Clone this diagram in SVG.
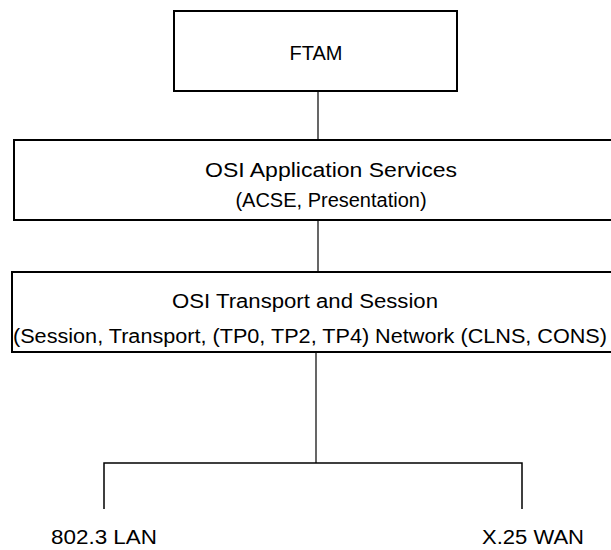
<svg xmlns="http://www.w3.org/2000/svg" width="611" height="550" viewBox="0 0 611 550">
<style>
.box{fill:#fff;stroke:#000;stroke-width:2}
.ln{fill:none;stroke:#000;stroke-width:1.2}
text{font-family:"Liberation Sans",Arial,sans-serif;font-size:20px;fill:#000}
.c{text-anchor:middle}
</style>
<rect width="611" height="550" fill="#fff"/>
<g id="connectors">
<line class="ln" x1="318" y1="91" x2="318" y2="140"/>
<line class="ln" x1="318" y1="220" x2="318" y2="272"/>
<line class="ln" x1="316" y1="352" x2="316" y2="463"/>
<polyline class="ln" points="104,509 104,463 522,463 522,509" style="stroke-width:1.5"/>
</g>
<g id="ftam">
<rect class="box" x="174" y="11" width="283" height="80"/>
<text class="c" x="316" y="60">FTAM</text>
</g>
<g id="app">
<rect class="box" x="14" y="140" width="610" height="80"/>
<text class="c" x="331" y="177" textLength="252" lengthAdjust="spacingAndGlyphs">OSI Application Services</text>
<text class="c" x="331" y="207">(ACSE, Presentation)</text>
</g>
<g id="transport">
<rect class="box" x="12" y="272" width="612" height="80"/>
<text class="c" x="305" y="308" textLength="266" lengthAdjust="spacingAndGlyphs">OSI Transport and Session</text>
<text x="13" y="343" textLength="594" lengthAdjust="spacingAndGlyphs">(Session, Transport, (TP0, TP2, TP4) Network (CLNS, CONS)</text>
</g>
<g id="lan">
<text x="51" y="544" textLength="106" lengthAdjust="spacingAndGlyphs">802.3 LAN</text>
</g>
<g id="wan">
<text x="482" y="544" textLength="102" lengthAdjust="spacingAndGlyphs">X.25 WAN</text>
</g>
</svg>
